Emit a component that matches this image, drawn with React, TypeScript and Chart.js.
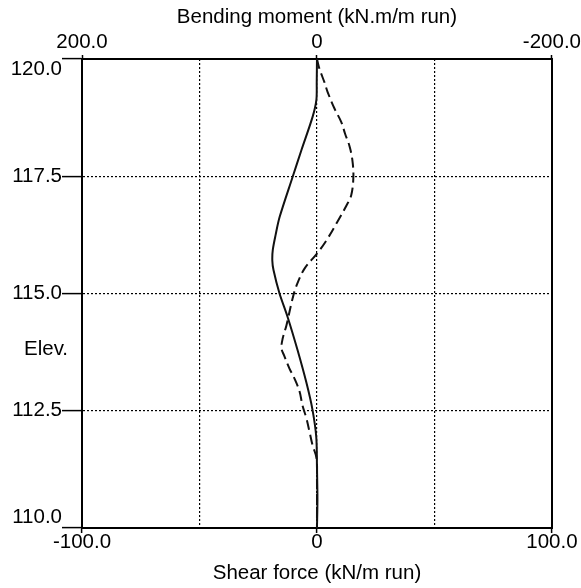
import React, { useEffect, useRef } from 'react';
import { Chart, registerables } from 'chart.js';

Chart.register(...registerables);

// Bending moment (solid line, top axis) vs elevation
const momentElevations = [120.0, 119.5, 119.13, 118.76, 118.06, 117.48, 116.63, 116.25, 115.93, 115.7, 115.5, 115.01, 114.5, 113.8, 113.09, 112.52, 111.94, 111.3, 110.6, 110.0];
const momentValues = [0, 0.2, 0.5, 3.8, 13.2, 20.8, 31.8, 35.2, 37.6, 38, 37, 32, 25, 16.6, 8.9, 3.8, 0.6, 0, -0.4, 0];

// Shear force (dashed line, bottom axis) vs elevation
const shearElevations = [120.0, 119.8, 119.5, 119.3, 118.95, 118.65, 118.4, 118.15, 117.87, 117.5, 117.1, 116.87, 116.53, 116.13, 115.85, 115.53, 115.17, 114.89, 114.32, 114.04, 113.83, 113.68, 113.4, 113.19, 112.91, 112.62, 112.34, 112.06, 111.77, 111.49, 111.06, 110.0];
const shearValues = [0, 1, 3.2, 4.5, 7.4, 10.4, 12, 13.8, 15, 15.5, 14.6, 12.5, 8.7, 4, 0, -5.3, -8.7, -10.4, -13, -14.6, -15.1, -14, -11.7, -9.6, -7.4, -6.2, -4.5, -3.2, -1.9, -0.2, 0, 0];

const shearTickValues = [-100, 0, 100];
const shearTickLabels = ['-100.0', '0', '100.0'];
const momentTickValues = [200, 0, -200];
const momentTickLabels = ['200.0', '0', '-200.0'];
const elevationTickValues = [110, 112.5, 115, 117.5, 120];
const elevationTickLabels = ['110.0', '112.5', '115.0', '117.5', '120.0'];

const topAxisTitle = 'Bending moment (kN.m/m run)';
const bottomAxisTitle = 'Shear force (kN/m run)';
const leftAxisTitle = 'Elev.';

const FONT = '"Liberation Sans", Arial, sans-serif';
const FONT_SIZE = 20.5;

function findIndex(values: number[], v: number): number {
  return values.findIndex((t) => Math.abs(t - v) < 1e-6);
}

export default function App() {
  const canvasRef = useRef<HTMLCanvasElement | null>(null);

  useEffect(() => {
    document.body.style.margin = '0';
    const canvas = canvasRef.current;
    if (!canvas) return;

    const elevLabelPlugin = {
      id: 'elevLabel',
      afterDraw(chart: any) {
        const { ctx, chartArea } = chart;
        ctx.save();
        ctx.font = `${FONT_SIZE}px ${FONT}`;
        ctx.fillStyle = '#000';
        ctx.textAlign = 'left';
        ctx.textBaseline = 'middle';
        ctx.fillText(leftAxisTitle, chartArea.left - 58, chartArea.top + 0.62 * (chartArea.bottom - chartArea.top));
        ctx.restore();
      },
    };

    const chart = new Chart(canvas, {
      type: 'scatter',
      data: {
        datasets: [
          {
            label: 'Bending moment',
            data: momentElevations.map((e, i) => ({ x: momentValues[i], y: e })),
            xAxisID: 'x2',
            yAxisID: 'y',
            showLine: true,
            borderColor: '#111',
            borderWidth: 2,
            pointRadius: 0,
            tension: 0.3,
          },
          {
            label: 'Shear force',
            data: shearElevations.map((e, i) => ({ x: shearValues[i], y: e })),
            xAxisID: 'x',
            yAxisID: 'y',
            showLine: true,
            borderColor: '#111',
            borderWidth: 2,
            borderDash: [10, 5],
            pointRadius: 0,
            tension: 0.35,
          },
        ],
      },
      options: {
        responsive: false,
        animation: false,
        events: [],
        layout: { padding: 0 },
        plugins: {
          legend: { display: false },
          tooltip: { enabled: false },
        },
        scales: {
          x: {
            type: 'linear',
            position: 'bottom',
            min: -100,
            max: 100,
            afterFit: (s: any) => { s.height = 60; },
            afterBuildTicks: (s: any) => {
              s.ticks = [-100, -50, 0, 50, 100].map((v) => ({ value: v }));
            },
            ticks: {
              autoSkip: false,
              maxRotation: 0,
              padding: -3,
              color: '#000',
              font: { family: FONT, size: FONT_SIZE },
              callback: (v: any) => {
                const i = findIndex(shearTickValues, Number(v));
                return i >= 0 ? shearTickLabels[i] : '';
              },
            },
            grid: {
              color: '#000',
              lineWidth: 1.2,
              drawTicks: true,
              tickLength: 5,
              tickWidth: 1.5,
              tickColor: (ctx: any) => (ctx.tick && findIndex(shearTickValues, ctx.tick.value) >= 0 ? '#000' : 'rgba(0,0,0,0)'),
            },
            border: { display: true, color: '#000', width: 2, dash: [2, 2] },
            title: {
              display: true,
              text: bottomAxisTitle,
              color: '#000',
              font: { family: FONT, size: FONT_SIZE },
              padding: { top: 0, bottom: 2 },
            },
          },
          x2: {
            type: 'linear',
            position: 'top',
            min: -200,
            max: 200,
            reverse: true,
            afterFit: (s: any) => { s.height = 59; },
            afterBuildTicks: (s: any) => {
              s.ticks = [200, 100, 0, -100, -200].map((v) => ({ value: v }));
            },
            ticks: {
              autoSkip: false,
              maxRotation: 0,
              padding: 0,
              color: '#000',
              font: { family: FONT, size: FONT_SIZE },
              callback: (v: any) => {
                const i = findIndex(momentTickValues, Number(v));
                return i >= 0 ? momentTickLabels[i] : '';
              },
            },
            grid: {
              drawOnChartArea: false,
              drawTicks: true,
              tickLength: 4,
              tickWidth: 1.5,
              tickColor: (ctx: any) => (ctx.tick && findIndex(momentTickValues, ctx.tick.value) >= 0 ? '#000' : 'rgba(0,0,0,0)'),
            },
            border: { display: true, color: '#000', width: 2 },
            title: {
              display: true,
              text: topAxisTitle,
              color: '#000',
              font: { family: FONT, size: FONT_SIZE },
              padding: { top: 5, bottom: 0 },
            },
          },
          y: {
            type: 'linear',
            position: 'left',
            min: 110,
            max: 120,
            afterFit: (s: any) => { s.width = 82; },
            afterBuildTicks: (s: any) => {
              s.ticks = elevationTickValues.map((v) => ({ value: v }));
            },
            ticks: {
              autoSkip: false,
              padding: 0,
              color: '#000',
              font: { family: FONT, size: FONT_SIZE, lineHeight: 1.0 },
              callback: (v: any) => {
                const i = findIndex(elevationTickValues, Number(v));
                if (i < 0) return '';
                const label = elevationTickLabels[i];
                if (i === elevationTickValues.length - 1) return ['', label];
                if (i === 0) return [label, ''];
                return label;
              },
            },
            grid: {
              color: '#000',
              lineWidth: 1.2,
              drawTicks: true,
              tickLength: 20,
              tickWidth: 1.5,
              tickColor: '#000',
            },
            border: { display: true, color: '#000', width: 2, dash: [2, 2] },
          },
          y2: {
            type: 'linear',
            position: 'right',
            min: 110,
            max: 120,
            afterFit: (s: any) => { s.width = 28; },
            ticks: { display: false },
            grid: { display: false, drawTicks: false },
            border: { display: true, color: '#000', width: 2 },
          },
        },
      },
      plugins: [elevLabelPlugin],
    } as any);

    return () => {
      chart.destroy();
    };
  }, []);

  return (
    <div style={{ width: 581, height: 588, background: '#fff' }}>
      <canvas ref={canvasRef} width={581} height={588} style={{ display: 'block' }} />
    </div>
  );
}
